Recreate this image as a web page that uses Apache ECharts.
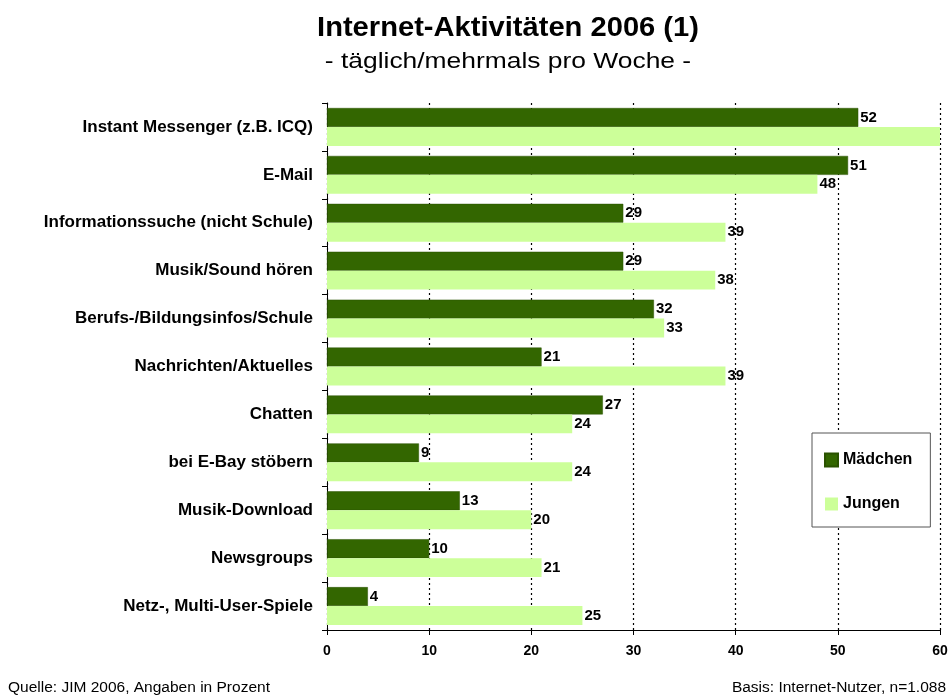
<!DOCTYPE html>
<html><head><meta charset="utf-8">
<script src="https://cdn.jsdelivr.net/npm/echarts@6/dist/echarts.min.js"></script>
<style>html,body{margin:0;padding:0;background:#fff}#c{width:952px;height:697px}</style>
</head><body><div id="c"></div>
<script>
const categories = ["Instant Messenger (z.B. ICQ)","E-Mail","Informationssuche (nicht Schule)","Musik/Sound hören","Berufs-/Bildungsinfos/Schule","Nachrichten/Aktuelles","Chatten","bei E-Bay stöbern","Musik-Download","Newsgroups","Netz-, Multi-User-Spiele"];
const maedchen = [52,51,29,29,32,21,27,9,13,10,4];
const jungen = [70,48,39,38,33,39,24,24,20,21,25];
const xTicks = [0,10,20,30,40,50,60];
const AXIS_MAX = 60;
const font = 'Liberation Sans, Arial, sans-serif';
const chart = echarts.init(document.getElementById('c'));
const lbl = {show:true, position:'right', distance:2, color:'#000', fontFamily:font, fontSize:15, fontWeight:'bold',
  formatter: p => p.value > AXIS_MAX ? '' : String(p.value)};
chart.setOption({
  animation:false,
  graphic:[
    {type:'text', x:508, y:28, scaleX:1.04, style:{text:'Internet-Aktivitäten 2006 (1)', fontFamily:font, fontSize:28, fontWeight:'bold', fill:'#000', textAlign:'center', textVerticalAlign:'middle'}},
    {type:'text', x:508, y:62, scaleX:1.2, style:{text:'- täglich/mehrmals pro Woche -', fontFamily:font, fontSize:22, fontWeight:'normal', fill:'#000', textAlign:'center', textVerticalAlign:'middle'}},
    {type:'text', x:8, y:688, style:{text:'Quelle: JIM 2006, Angaben in Prozent', fontFamily:font, fontSize:15.5, fill:'#000', textAlign:'left', textVerticalAlign:'middle'}},
    {type:'text', x:946, y:688, style:{text:'Basis: Internet-Nutzer, n=1.088', fontFamily:font, fontSize:15.5, fill:'#000', textAlign:'right', textVerticalAlign:'middle'}}
  ],
  legend:{orient:'vertical', left:812, top:433, icon:'rect', itemWidth:13, itemHeight:13, itemGap:28,
    padding:[19,18,15,12], borderColor:'#555', borderWidth:1, backgroundColor:'#fff',
    textStyle:{fontFamily:font, fontSize:16, fontWeight:'bold', color:'#000'},
    data:['Mädchen','Jungen']},
  grid:{left:327, right:12, top:103, bottom:67},
  xAxis:{type:'value', min:0, max:AXIS_MAX, interval:10,
    axisLine:{show:true, lineStyle:{color:'#000', width:1}},
    axisTick:{show:true, length:5, lineStyle:{color:'#000'}},
    axisLabel:{fontFamily:font, fontSize:14, fontWeight:'bold', color:'#000', margin:14,
      formatter: v => xTicks.includes(v) ? String(v) : ''},
    splitLine:{show:true, lineStyle:{color:'#000', type:[2,3], width:1.2}}},
  yAxis:{type:'category', data:categories, inverse:true,
    axisLine:{show:true, lineStyle:{color:'#000', width:1}},
    axisTick:{show:true, length:5, lineStyle:{color:'#000'}},
    axisLabel:{fontFamily:font, fontSize:17, fontWeight:'bold', color:'#000', margin:14}},
  series:[
    {name:'Mädchen', type:'bar', data:maedchen, barGap:'0%', barCategoryGap:'21%',
     itemStyle:{color:'#336600', borderColor:'#2a5200', borderWidth:0.5}, label:lbl},
    {name:'Jungen', type:'bar', data:jungen, clip:true,
     itemStyle:{color:'#ccff99'}, label:lbl}
  ]
});
</script></body></html>
